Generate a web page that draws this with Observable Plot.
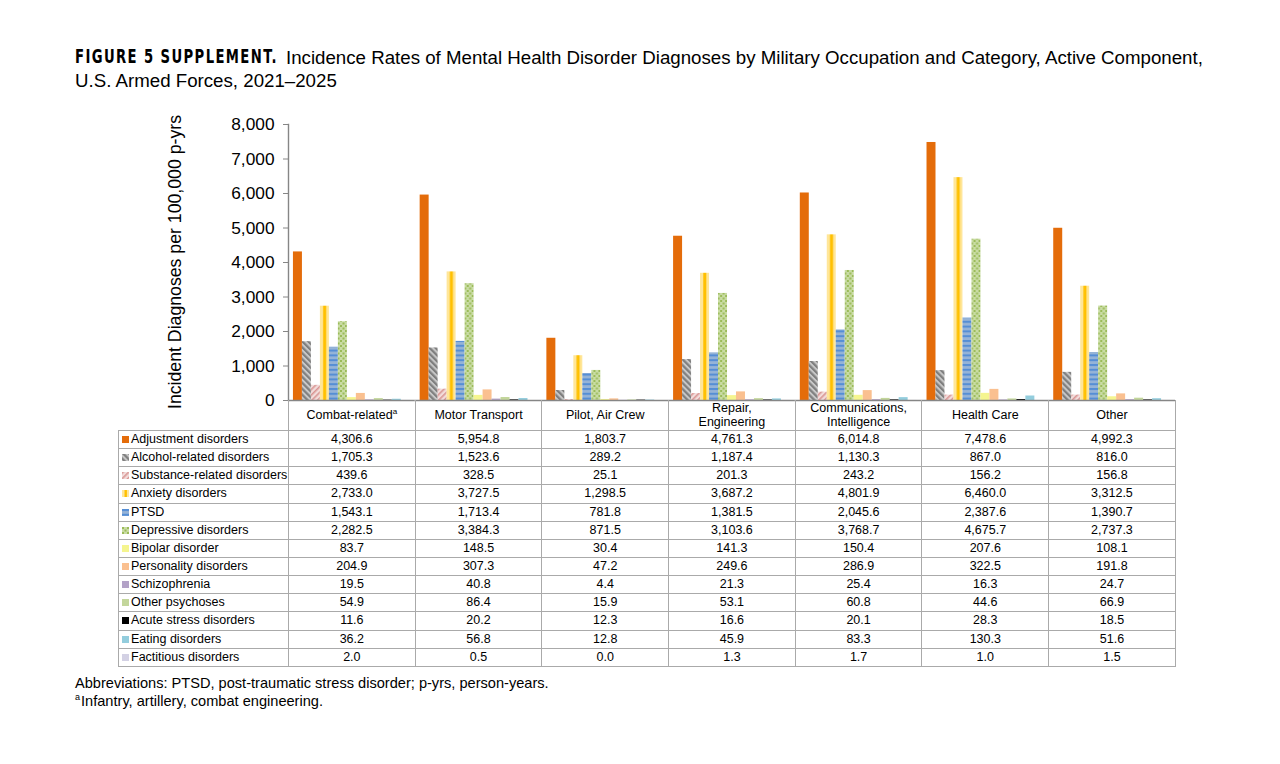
<!DOCTYPE html>
<html>
<head>
<meta charset="utf-8">
<script src="https://cdn.jsdelivr.net/npm/d3@7"></script>
<script src="https://cdn.jsdelivr.net/npm/@observablehq/plot@0.6"></script>
<style>
  html, body { margin: 0; padding: 0; background: #fff; }
  body { font-family: "Liberation Sans", Arial, sans-serif; color: #000; }
  #wrap { position: relative; width: 1280px; height: 764px; overflow: hidden; }
  .tl { position: absolute; font-size: 18.7px; line-height: 23px; white-space: nowrap; }
  #t1fig { left: 75px; top: 45px; font-family: "DejaVu Sans", sans-serif; font-weight: bold; letter-spacing: 2px; font-size: 19px; transform-origin: 0 50%; display: inline-block; }
  #t1rest { left: 286px; top: 46px; }
  #t2 { left: 75px; top: 69px; }
  #chart { position: absolute; left: 0; top: 100px; }
  #ylabel { position: absolute; left: 175px; top: 262px; transform: translate(-50%, -50%) rotate(-90deg); font-size: 17.7px; white-space: nowrap; }
  #tbl { position: absolute; left: 118px; top: 400px; border-collapse: collapse; table-layout: fixed; font-size: 12.5px; }
  #tbl td { padding: 0; border: 1px solid #aaaaaa; text-align: center; white-space: nowrap; overflow: hidden; }
  #tbl tr.head td { height: 30px; line-height: 14px; border-top: none; vertical-align: middle; }
  #tbl tr.head td.corner { border: none; border-right: 1px solid #aaaaaa; }
  #tbl tr.body td { height: 17.15px; line-height: 15px; }
  #tbl td.name { text-align: left; padding-left: 3px; }
  #tbl td.name svg { vertical-align: 0px; margin-right: 2px; }
  sup { font-size: 8px; line-height: 0; vertical-align: 5px; }
  #notes { position: absolute; left: 75px; top: 674px; font-size: 14.6px; line-height: 18px; }
  #notes sup { font-size: 9px; vertical-align: 6px; margin-right: 1px; }
</style>
</head>
<body>
<div id="wrap">
  <div class="tl" id="t1fig">FIGURE 5 SUPPLEMENT.</div>
  <div class="tl" id="t1rest">Incidence Rates of Mental Health Disorder Diagnoses by Military Occupation and Category, Active Component,</div>
  <div class="tl" id="t2">U.S. Armed Forces, 2021–2025</div>
  <div id="chart"></div>
  <div id="ylabel">Incident Diagnoses per 100,000 p-yrs</div>
  <table id="tbl"></table>
  <div id="notes">Abbreviations: PTSD, post-traumatic stress disorder; p-yrs, person-years.<br><sup>a</sup>Infantry, artillery, combat engineering.</div>
</div>
<script>
// ---- Data ----
const occupations = ["Combat-related", "Motor Transport", "Pilot, Air Crew", "Repair, Engineering", "Communications, Intelligence", "Health Care", "Other"];
const occupationHeaders = ["Combat-related<sup>a</sup>", "Motor Transport", "Pilot, Air Crew", "Repair,<br>Engineering", "Communications,<br>Intelligence", "Health Care", "Other"];
const disorders = ["Adjustment disorders", "Alcohol-related disorders", "Substance-related disorders", "Anxiety disorders", "PTSD", "Depressive disorders", "Bipolar disorder", "Personality disorders", "Schizophrenia", "Other psychoses", "Acute stress disorders", "Eating disorders", "Factitious disorders"];

const adjustment    = [4306.6, 5954.8, 1803.7, 4761.3, 6014.8, 7478.6, 4992.3];
const alcohol       = [1705.3, 1523.6, 289.2, 1187.4, 1130.3, 867.0, 816.0];
const substance     = [439.6, 328.5, 25.1, 201.3, 243.2, 156.2, 156.8];
const anxiety       = [2733.0, 3727.5, 1298.5, 3687.2, 4801.9, 6460.0, 3312.5];
const ptsd          = [1543.1, 1713.4, 781.8, 1381.5, 2045.6, 2387.6, 1390.7];
const depressive    = [2282.5, 3384.3, 871.5, 3103.6, 3768.7, 4675.7, 2737.3];
const bipolar       = [83.7, 148.5, 30.4, 141.3, 150.4, 207.6, 108.1];
const personality   = [204.9, 307.3, 47.2, 249.6, 286.9, 322.5, 191.8];
const schizophrenia = [19.5, 40.8, 4.4, 21.3, 25.4, 16.3, 24.7];
const otherPsych    = [54.9, 86.4, 15.9, 53.1, 60.8, 44.6, 66.9];
const acuteStress   = [11.6, 20.2, 12.3, 16.6, 20.1, 28.3, 18.5];
const eating        = [36.2, 56.8, 12.8, 45.9, 83.3, 130.3, 51.6];
const factitious    = [2.0, 0.5, 0.0, 1.3, 1.7, 1.0, 1.5];

const seriesValues = [adjustment, alcohol, substance, anxiety, ptsd, depressive, bipolar, personality, schizophrenia, otherPsych, acuteStress, eating, factitious];
const yTicks = [0, 1000, 2000, 3000, 4000, 5000, 6000, 7000, 8000];

// ---- Styles ----
const fills = ["#e46c0a", "url(#p-alc)", "url(#p-sub)", "url(#p-anx)", "url(#p-ptsd)", "url(#p-dep)", "#f5f58f", "#fac090", "#b3a2c7", "#c3d69b", "#000000", "#93cddd", "#d3d1e4"];

const rows = disorders.flatMap((d, i) => occupations.map((o, j) => ({occupation: o, disorder: d, value: seriesValues[i][j]})));

const chart = Plot.plot({
  width: 1280,
  height: 310,
  marginLeft: 288,
  marginRight: 105,
  marginTop: 24,
  marginBottom: 10,
  style: {fontFamily: "'Liberation Sans', Arial, sans-serif", fontSize: "17px", color: "#000", background: "transparent", overflow: "visible"},
  fx: {domain: occupations, padding: 0, round: false, axis: null, label: null},
  x: {domain: disorders, paddingInner: 0, paddingOuter: 0.55, round: false, axis: null, label: null},
  y: {domain: [0, 8000], axis: null},
  color: {type: "ordinal", domain: disorders, range: fills},
  marks: [
    Plot.barY(rows, {fx: "occupation", x: "disorder", y: "value", fill: "disorder", inset: 0}),
    Plot.ruleY([0], {stroke: "#868686", strokeWidth: 1.4}),
    Plot.axisY({ticks: yTicks, tickFormat: d3.format(","), tickSize: 5, tickPadding: 9, stroke: "#868686", fill: "#000", fontSize: 17.3, label: null}),
    Plot.frame({anchor: "left", facetAnchor: "left", stroke: "#868686", strokeWidth: 1.4})
  ]
});

// pattern definitions
const defs = d3.select(chart).insert("defs", ":first-child");
function stripe(id, bg, fg, angle, size, w) {
  const p = defs.append("pattern").attr("id", id).attr("patternUnits", "userSpaceOnUse")
    .attr("width", size).attr("height", size).attr("patternTransform", `rotate(${angle})`);
  p.append("rect").attr("width", size).attr("height", size).attr("fill", bg);
  p.append("rect").attr("width", w).attr("height", size).attr("fill", fg);
}
stripe("p-alc", "#c8c8c8", "#7f7f7f", -45, 4.2, 2.2);
stripe("p-sub", "#f2dcdb", "#d99694", 45, 4, 1.6);
{
  const p = defs.append("pattern").attr("id", "p-anx").attr("patternUnits", "objectBoundingBox")
    .attr("patternContentUnits", "objectBoundingBox").attr("width", 1).attr("height", 1);
  p.append("rect").attr("width", 1).attr("height", 1).attr("fill", "#ffe699");
  p.append("rect").attr("x", 0.36).attr("width", 0.34).attr("height", 1).attr("fill", "#ffc000");
}
{
  const p = defs.append("pattern").attr("id", "p-ptsd").attr("patternUnits", "userSpaceOnUse").attr("width", 10).attr("height", 4.8);
  p.append("rect").attr("width", 10).attr("height", 4.8).attr("fill", "#95b3d7");
  p.append("rect").attr("width", 10).attr("height", 2).attr("fill", "#558ed5");
}
{
  const p = defs.append("pattern").attr("id", "p-dep").attr("patternUnits", "userSpaceOnUse").attr("width", 5).attr("height", 5);
  p.append("rect").attr("width", 5).attr("height", 5).attr("fill", "#c9dca4");
  p.append("rect").attr("width", 2).attr("height", 2).attr("fill", "#9bbb59");
  p.append("rect").attr("x", 2.5).attr("y", 2.5).attr("width", 2).attr("height", 2).attr("fill", "#9bbb59");
}
document.getElementById("chart").appendChild(chart);

// condensed look for the figure label: squeeze to the reference width
{
  const el = document.getElementById("t1fig");
  const w = el.getBoundingClientRect().width;
  el.style.transform = `scaleX(${203 / w})`;
}

// ---- Data table ----
const tbl = d3.select("#tbl");
const cg = tbl.append("colgroup");
cg.append("col").style("width", "170px");
occupations.forEach(() => cg.append("col").style("width", "126.7px"));
tbl.style("width", (170 + 126.7 * occupations.length) + "px");
const head = tbl.append("tr").attr("class", "head");
head.append("td").attr("class", "corner");
occupationHeaders.forEach(h => head.append("td").html(h));
const fmt = d3.format(",.1f");
disorders.forEach((d, i) => {
  const tr = tbl.append("tr").attr("class", "body");
  const name = tr.append("td").attr("class", "name");
  const sw = name.append("svg").attr("width", 7).attr("height", 7);
  sw.append("rect").attr("width", 7).attr("height", 7).attr("fill", fills[i]);
  name.append("span").text(d);
  seriesValues[i].forEach(v => tr.append("td").text(fmt(v)));
});
</script>
</body>
</html>
